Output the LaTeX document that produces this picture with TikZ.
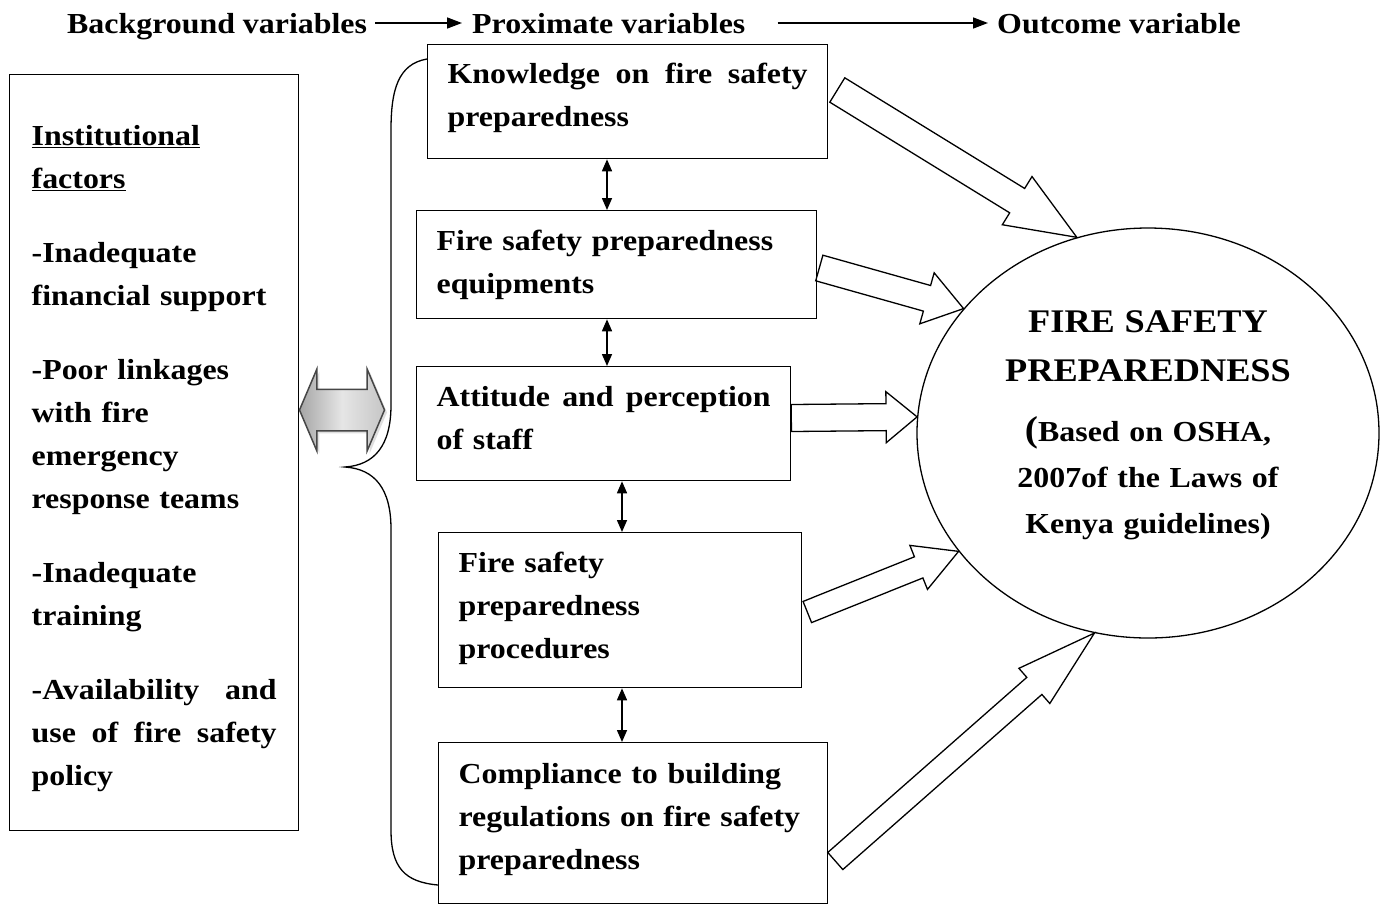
\documentclass[tikz,border=0pt]{standalone}
\usepackage{fontspec}
\setmainfont{Liberation Serif}[FakeStretch=1.1]
\usetikzlibrary{positioning, calc, shapes.geometric, shapes.arrows, arrows.meta, shadows}

% a line stretched to the full text width
\newcommand\jline[1]{\makebox[\linewidth][s]{\spaceskip=0.25em plus 1fil\relax #1}}
% hollow block arrow: tail, tip, half shaft, half head, head length
\newcommand\blockarrow[5]{%
  \coordinate (ba-n) at ($(#2)!#5!(#1)$);
  \draw[hollow] ($(#1)!#3!90:(#2)$) -- ($(ba-n)!#3!90:(#2)$) -- ($(ba-n)!#4!90:(#2)$)
    -- (#2) -- ($(ba-n)!#4!-90:(#2)$) -- ($(ba-n)!#3!-90:(#2)$) -- ($(#1)!#3!-90:(#2)$) -- cycle;}

\begin{document}
\begin{tikzpicture}[
  x=1pt, y=-1pt,
  font=\bfseries\fontsize{29}{43}\selectfont,
  head/.style={inner sep=0, anchor=base west},
  var/.style={
    draw,
    line width=1.3pt,
    anchor=north west,
    inner xsep=20pt,
    inner ysep=0,
    align=left
  },
  bgbox/.style={var, inner xsep=22pt},
  outcome/.style={
    draw,
    ellipse,
    line width=1.3pt,
    inner sep=0,
    align=center,
    text width=300pt,
    minimum width=462pt,
    minimum height=410pt,
    font=\bfseries\fontsize{29}{46}\selectfont
  },
  link/.style={
    double arrow,
    draw=gray!55!black,
    line width=1.5pt,
    left color=gray!70,
    right color=gray!45,
    middle color=gray!20,
    minimum height=85pt,
    inner xsep=0,
    inner ysep=20pt,
    double arrow head extend=20pt,
    double arrow tip angle=134,
    drop shadow={shadow xshift=2.5pt, shadow yshift=-2.5pt, fill=gray!50}
  },
  hollow/.style={draw, line width=1.3pt, line join=miter},
  arr/.style={line width=1.5pt, -{Triangle[length=15pt, width=11pt]}},
  dbl/.style={line width=1.5pt, {Triangle[length=12pt, width=10pt]}-{Triangle[length=12pt, width=10pt]}},
  brace/.style={line width=1.3pt}
]
\useasboundingbox (0,0) rectangle (1384,903);

% header
\node[head] (bgvar) at (67,33) {Background variables};
\node[head] (proxvar) at (472,33) {Proximate variables};
\node[head] (outvar) at (997,33) {Outcome variable};
\draw[arr] ([xshift=8pt, yshift=10pt]bgvar.base east) -- ([xshift=-10pt, yshift=10pt]proxvar.base west);
\draw[arr] ([xshift=32pt, yshift=10pt]proxvar.base east) -- ([xshift=-9pt, yshift=10pt]outvar.base west);

% background variables
\node[bgbox, minimum width=289pt, minimum height=756pt, text width=245pt] (inst) at (9,74) {
  \rule{0pt}{32pt}\underline{Institutional}\\
  \underline{factors}\\[31pt]
  -Inadequate\\
  financial support\\[31pt]
  -Poor linkages\\
  with fire\\
  emergency\\
  response teams\\[31pt]
  -Inadequate\\
  training\\[31pt]
  \jline{-Availability and}\\
  \jline{use of fire safety}\\
  policy
};

% proximate variables
\node[var, minimum width=400pt, minimum height=114pt, text width=360pt] (know) at (427,44) {
  \jline{Knowledge on fire safety}\\
  preparedness\rule[-14pt]{0pt}{0pt}
};
\node[var, minimum width=400pt, minimum height=108pt, text width=360pt] (equip) at (416,210) {
  Fire safety preparedness\\
  equipments
};
\node[var, minimum width=374pt, minimum height=114pt, text width=334pt] (attit) at (416,366) {
  \jline{Attitude and perception}\\
  of staff\rule[-11pt]{0pt}{0pt}
};
\node[var, minimum width=363pt, minimum height=155pt, text width=323pt] (proc) at (438,532) {
  Fire safety\\
  preparedness\\
  procedures\rule[-10pt]{0pt}{0pt}
};
\node[var, minimum width=389pt, minimum height=161pt, text width=349pt] (comply) at (438,742) {
  Compliance to building\\
  regulations on fire safety\\
  preparedness\rule[-14pt]{0pt}{0pt}
};

\draw[dbl] (know.south -| 607,0) -- (equip.north -| 607,0);
\draw[dbl] (equip.south -| 607,0) -- (attit.north -| 607,0);
\draw[dbl] (attit.south -| 622,0) -- (proc.north -| 622,0);
\draw[dbl] (proc.south -| 622,0) -- (comply.north -| 622,0);

% brace and link
\draw[brace] (know.west |- 0,59) .. controls (398,64) and (391,90) .. (391,130) -- (391,405)
  .. controls (391,445) and (375,465) .. (345,467)
  .. controls (375,469) and (391,489) .. (391,529) -- (391,830)
  .. controls (391,868) and (405,882) .. (comply.west |- 0,885);
\node[link] (link) at (342,410) {};

% outcome variable
\node[outcome] (fsp) at (1148,433) {
  {\fontsize{33}{46}\selectfont FIRE SAFETY}\\[3pt]
  {\fontsize{33}{46}\selectfont PREPAREDNESS}\\[14pt]
  {\fontsize{36}{46}\selectfont(}Based on OSHA,\\
  2007of the Laws of\\
  Kenya guidelines)\rule[-21pt]{0pt}{0pt}
};

% arrows to outcome
\coordinate (t1) at ($(know.north east)+(9,46)$);
\coordinate (t2) at ($(equip.north east)+(2,58)$);
\coordinate (t3) at ($(attit.north east)+(0,52)$);
\coordinate (t4) at ($(proc.north east)+(5,80)$);
\coordinate (t5) at ($(comply.north east)+(7,119)$);
\blockarrow{t1}{fsp.110.5}{14.3pt}{28.3pt}{70pt}
\blockarrow{t2}{fsp.146.5}{13.3pt}{26.5pt}{38pt}
\blockarrow{t3}{fsp.176.8}{13.5pt}{25.5pt}{31pt}
\blockarrow{t4}{fsp.212.8}{11.4pt}{23.7pt}{43pt}
\blockarrow{t5}{fsp.255.6}{11.4pt}{23.4pt}{80pt}

\end{tikzpicture}
\end{document}
